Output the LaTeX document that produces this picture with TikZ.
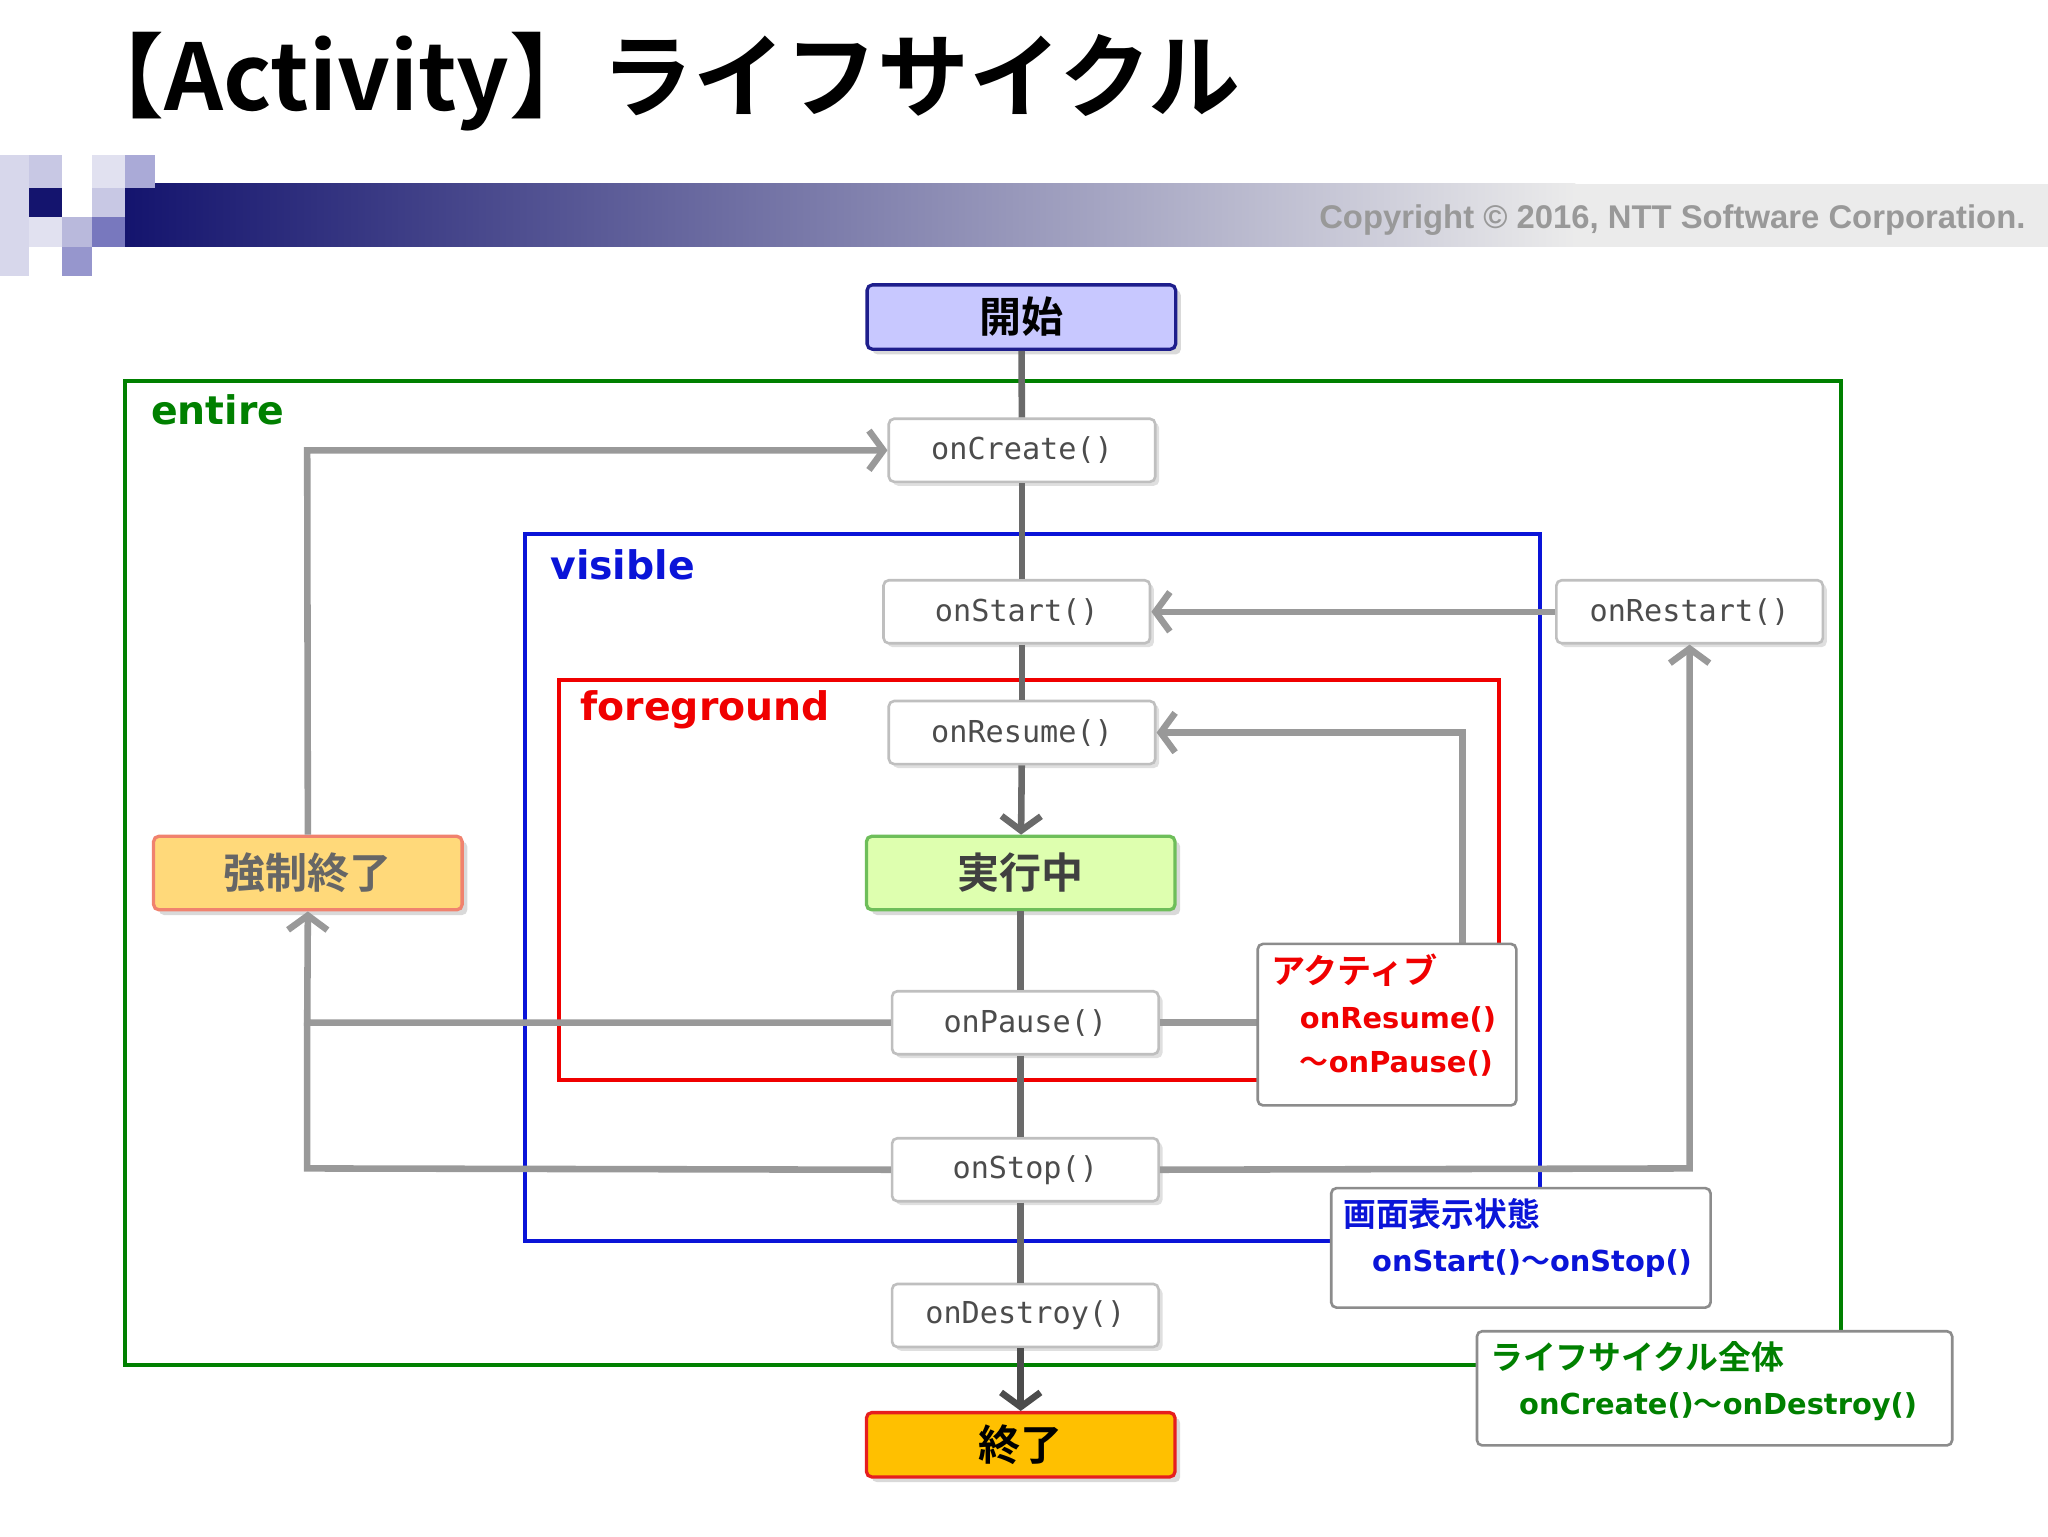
\documentclass[tikz,border=0pt]{standalone}
\usepackage{fontspec}
\setmainfont{DejaVu Sans}
\newfontfamily\jp{Noto Sans CJK JP}[BoldFont={Noto Sans CJK JP Bold}]
\newfontfamily\mono{DejaVu Sans Mono}
\newfontfamily\arial{Liberation Sans}
\usetikzlibrary{arrows.meta,shadows}
\definecolor{gline}{HTML}{999999}
\definecolor{dline}{HTML}{6A6A6A}
\definecolor{gr}{HTML}{008000}
\definecolor{bl}{HTML}{0A14D8}
\definecolor{rd}{HTML}{F00000}
\definecolor{navy}{RGB}{20,20,110}
\definecolor{lgr}{RGB}{235,235,235}
\definecolor{sqA}{RGB}{215,215,235}
\definecolor{sqB}{RGB}{200,200,228}
\definecolor{sqC}{RGB}{225,225,240}
\definecolor{sqD}{RGB}{185,185,220}
\definecolor{sqE}{RGB}{150,150,205}
\definecolor{sqF}{RGB}{170,170,215}
\definecolor{sqG}{RGB}{120,120,190}
\tikzset{
 fn/.style={draw=black!25,line width=2pt,rounded corners=4pt,fill=white,minimum width=203pt,minimum height=48pt,font=\mono\fontsize{23}{23}\selectfont,text=black!70,inner sep=0pt,drop shadow={opacity=0.25,shadow xshift=3pt,shadow yshift=-3pt}},
 st/.style={line width=2.5pt,rounded corners=4pt,minimum width=235pt,inner sep=0pt,font=\jp\bfseries\fontsize{32}{32}\selectfont,drop shadow={opacity=0.3,shadow xshift=4pt,shadow yshift=-4pt}},
 cn/.style={gline,line width=5pt},
 cd/.style={dline,line width=5pt},
 ar/.style={-{Straight Barb[length=11pt,width=30pt,line width=5pt]}},
 note/.style={draw=black!45,line width=2pt,rounded corners=4pt,fill=white,anchor=north west,align=left,inner sep=0pt},
}
\begin{document}
\begin{tikzpicture}[x=1pt,y=-1pt]
\useasboundingbox (0,0) rectangle (1560,1170);
% title
\node[anchor=west,inner sep=0pt,font=\jp\bfseries\fontsize{70}{70}\selectfont] (title) at (55,62) {【Activity】ライフサイクル};
% header bar
\fill[left color=navy,right color=lgr] (95,140) rectangle (1200,188);
\fill[lgr] (1199,140) rectangle (1560,188);
\fill[sqA] (0,118) rectangle (22,210);
\fill[sqB] (22,118) rectangle (47,143);
\fill[navy] (22,143) rectangle (47,165);
\fill[sqC] (22,165) rectangle (47,188);
\fill[sqD] (47,165) rectangle (70,188);
\fill[sqE] (47,188) rectangle (70,210);
\fill[sqB] (70,143) rectangle (95,165);
\fill[sqF] (95,118) rectangle (118,143);
\fill[sqC] (70,118) rectangle (95,143);
\fill[sqG] (70,165) rectangle (95,188);
\node[anchor=east,inner sep=0pt,text=black!40,font=\arial\bfseries\fontsize{25}{25}\selectfont] (copy) at (1543,168) {Copyright © 2016, NTT Software Corporation.};
% nodes
\node[st,fill={rgb,255:red,200;green,200;blue,255},draw={rgb,255:red,30;green,30;blue,140},minimum height=49pt] (start) at (778,241.5) {開始};
\node[fn] (create) at (778.5,343) {onCreate()};
\node[fn] (onstart) at (774.5,466) {onStart()};
\node[fn] (restart) at (1287,466) {onRestart()};
\node[fn] (resume) at (778.5,558) {onResume()};
\node[st,fill={rgb,255:red,222;green,255;blue,175},draw={rgb,255:red,110;green,190;blue,90},minimum height=56pt,text=black!75] (run) at (777.5,665) {実行中};
\node[st,fill={rgb,255:red,255;green,217;blue,122},draw={rgb,255:red,240;green,130;blue,110},minimum height=56pt,text=black!60] (kill) at (234.5,665) {強制終了};
\node[fn] (pause) at (781,779) {onPause()};
\node[fn] (stop) at (781,891) {onStop()};
\node[fn] (destroy) at (781,1002) {onDestroy()};
\node[st,fill={rgb,255:red,255;green,192;blue,0},draw={rgb,255:red,230;green,30;blue,30},minimum height=49pt] (end) at (777.5,1100.5) {終了};
% frames
\draw[gr,line width=3pt] (95,290) rectangle (1402,1040);
\node[anchor=west,inner sep=0pt,text=gr,font=\bfseries\fontsize{30}{30}\selectfont] (lentire) at (115,312) {entire};
\draw[bl,line width=3pt] (400,407) rectangle (1173,945);
\node[anchor=west,inner sep=0pt,text=bl,font=\bfseries\fontsize{30}{30}\selectfont] (lvis) at (419,430) {visible};
\draw[rd,line width=3pt] (426,518) rectangle (1142,823);
\node[anchor=west,inner sep=0pt,text=rd,font=\bfseries\fontsize{30}{30}\selectfont] (lfg) at (442,541) {foreground};
% connectors
\coordinate (k1) at (234,343);
\coordinate (k2) at (234,779);
\coordinate (k3) at (234,890);
\coordinate (p1) at (1114,779);
\coordinate (p2) at (1114,558);
\coordinate (s1) at (1287,890);
\draw[cd] (start) -- (create);
\draw[cd] (create) -- (onstart.north -| create);
\draw[cd] (onstart.south -| resume) -- (resume);
\draw[cd,ar] (resume) -- (run);
\draw[cd] (run) -- (pause.north -| run);
\draw[cd] (pause.south -| run) -- (stop.north -| run);
\draw[cd] (stop.south -| run) -- (destroy.north -| run);
\draw[cd,ar,black!70] (destroy.south -| run) -- (end);
\draw[cn,ar] (kill.north) -- (k1) -- (create.west);
\draw[cn,ar] (pause.west) -- (k2) -- (kill.south);
\draw[cn] (stop.west) -- (k3) -- (k2);
\draw[cn,ar] (pause.east) -- (p1) -- (p2) -- (resume.east);
\draw[cn,ar] (stop.east) -- (s1) -- (restart.south);
\draw[cn,ar] (restart.west) -- (onstart.east);
% notes
\node[note,minimum width=197pt,minimum height=123pt] (act) at (957,718) {};
\node[anchor=north west,inner sep=0pt,align=left,text=rd,font=\bfseries\fontsize{22}{33}\selectfont] (acttxt) at (968,726) {{\jp\fontsize{26}{26}\selectfont アクティブ}\\[2pt]\hspace{22pt}onResume()\\\hspace{22pt}{\jp ～}onPause()};
\node[note,minimum width=289pt,minimum height=91pt] (vis) at (1013,904) {};
\node[anchor=north west,inner sep=0pt,align=left,text=bl,font=\bfseries\fontsize{22}{34}\selectfont] (vistxt) at (1023,913) {{\jp\fontsize{25}{25}\selectfont 画面表示状態}\\\hspace{22pt}onStart(){\jp ～}onStop()};
\node[note,minimum width=362pt,minimum height=87pt] (ent) at (1124,1013) {};
\node[anchor=north west,inner sep=0pt,align=left,text=gr,font=\bfseries\fontsize{22}{34}\selectfont] (enttxt) at (1135,1022) {{\jp\fontsize{25}{25}\selectfont ライフサイクル全体}\\\hspace{22pt}onCreate(){\jp ～}onDestroy()};
\end{tikzpicture}
\end{document}
